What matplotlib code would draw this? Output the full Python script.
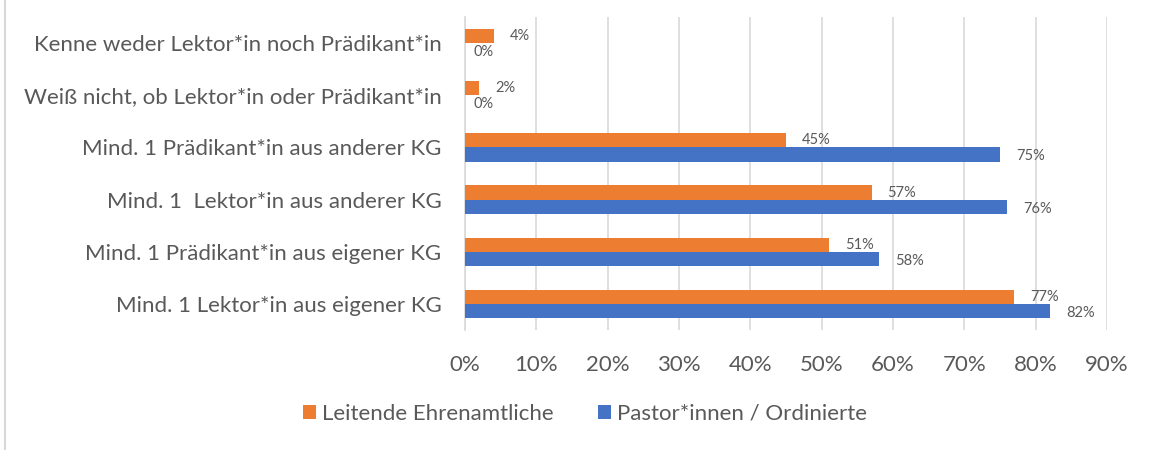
import numpy as np
import matplotlib.pyplot as plt
from matplotlib.lines import Line2D
from matplotlib.ticker import PercentFormatter

# categories from bottom to top
categories = ['Mind. 1 Lektor*in aus eigener KG',
              'Mind. 1 Prädikant*in aus eigener KG',
              'Mind. 1  Lektor*in aus anderer KG',
              'Mind. 1 Prädikant*in aus anderer KG',
              'Weiß nicht, ob Lektor*in oder Prädikant*in',
              'Kenne weder Lektor*in noch Prädikant*in']
ehrenamtliche = [0.77, 0.51, 0.57, 0.45, 0.02, 0.04]
pastoren = [0.82, 0.58, 0.76, 0.75, 0.00, 0.00]
series_names = ['Leitende Ehrenamtliche', 'Pastor*innen / Ordinierte']

plt.rcParams['font.family'] = ['Lato', 'DejaVu Sans']
txt = '#595959'
orange = '#ED7D31'
blue = '#4472C4'

fig = plt.figure(figsize=(11.49, 4.5), dpi=100)
ax = fig.add_axes([465/1149, 1-330/450, (1107-465)/1149, (330-17)/450])

y = np.arange(len(categories))
h = 0.27
ax.barh(y + h/2, ehrenamtliche, height=h, color=orange, label=series_names[0], zorder=3)
ax.barh(y - h/2, pastoren, height=h, color=blue, label=series_names[1], zorder=3)

# data labels
for yi, v in zip(y, ehrenamtliche):
    ax.annotate(f'{v*100:.0f}%', (v, yi + h/2), xytext=(16 if v > 0 else 9, 0),
                textcoords='offset pixels', va='center', ha='left', fontsize=10.5, color=txt)
for yi, v in zip(y, pastoren):
    ax.annotate(f'{v*100:.0f}%', (v, yi - h/2), xytext=(16 if v > 0 else 9, -2),
                textcoords='offset pixels', va='center', ha='left', fontsize=10.5, color=txt)

ax.set_xlim(0, 0.9)
ax.set_ylim(-0.5, len(categories) - 0.5)
ax.set_xticks(np.arange(0, 0.91, 0.1))
ax.xaxis.set_major_formatter(PercentFormatter(1.0, decimals=0))
ax.set_yticks(y)
ax.set_yticklabels(categories)
ax.tick_params(axis='both', length=0, labelsize=16, colors=txt)
ax.tick_params(axis='x', pad=18)
ax.tick_params(axis='y', pad=17)
ax.grid(axis='x', color='#D9D9D9', linewidth=1.2, zorder=0)
for s in ['top', 'right', 'bottom']:
    ax.spines[s].set_visible(False)
ax.spines['left'].set_color('#D9D9D9')
ax.spines['left'].set_linewidth(1.2)

fig.legend(loc='center', bbox_to_anchor=(585/1149, 1-414/450), ncol=2, frameon=False,
           fontsize=16, handlelength=0.6, handleheight=0.6, handletextpad=0.27,
           columnspacing=2.0, labelcolor=txt)

fig.add_artist(Line2D([5/1149, 5/1149], [0, 1], transform=fig.transFigure, color='#D9D9D9', linewidth=1.5))

fig.savefig('out.png', dpi=100)
